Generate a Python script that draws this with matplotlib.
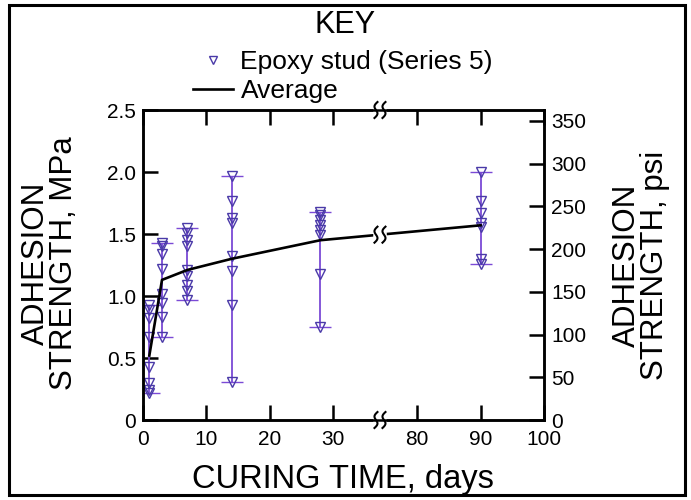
import numpy as np
import matplotlib.pyplot as plt
from matplotlib.lines import Line2D
from matplotlib.patches import Rectangle

plt.rcParams['font.family'] = ['Liberation Sans', 'DejaVu Sans']

# test ages (days) and individual pull-off results (MPa)
days = [1, 3, 7, 14, 28, 90]
day1 = [0.93, 0.89, 0.82, 0.67, 0.43, 0.30, 0.24, 0.22]
day3 = [1.43, 1.40, 1.34, 1.22, 1.02, 0.94, 0.83, 0.67]
day7 = [1.55, 1.51, 1.45, 1.40, 1.21, 1.16, 1.09, 1.04, 0.97]
day14 = [1.97, 1.77, 1.63, 1.59, 1.32, 1.20, 0.93, 0.31]
day28 = [1.68, 1.65, 1.61, 1.57, 1.53, 1.49, 1.18, 0.75]
day90 = [2.00, 1.77, 1.67, 1.59, 1.56, 1.30, 1.26]
strength = [day1, day3, day7, day14, day28, day90]

avg_days = [1, 3, 7, 14, 28, 90]
avg_mpa = [0.52, 1.13, 1.21, 1.30, 1.45, 1.57]

x_ticks = [0, 10, 20, 30, 80, 90, 100]
mpa_ticks = [0, 0.5, 1.0, 1.5, 2.0, 2.5]
mpa_labels = ['0', '0.5', '1.0', '1.5', '2.0', '2.5']
psi_ticks = [0, 50, 100, 150, 200, 250, 300, 350]

MPA_TO_PSI = 145.04
GAP_LO, GAP_HI = 37.4, 74.15   # broken x-axis
EPS = 1e-3

MARK = '#4a3aa8'
BAR = '#7b4ad6'
CAP = '#333333'


def fwd(x):
    x = np.asarray(x, dtype=float)
    return np.where(x <= GAP_LO, x,
                    np.where(x >= GAP_HI, x - (GAP_HI - GAP_LO) * (1 - EPS),
                             GAP_LO + (x - GAP_LO) * EPS))


def inv(y):
    y = np.asarray(y, dtype=float)
    mid = GAP_LO + (GAP_HI - GAP_LO) * EPS
    return np.where(y <= GAP_LO, y,
                    np.where(y >= mid, y + (GAP_HI - GAP_LO) * (1 - EPS),
                             GAP_LO + (y - GAP_LO) / EPS))


W, H = 691, 500
fig = plt.figure(figsize=(W / 100, H / 100), dpi=100)
ax_l, ax_b, ax_w, ax_h = 143, 80, 401, 310
ax = fig.add_axes([ax_l / W, ax_b / H, ax_w / W, ax_h / H])
ax.set_xscale('function', functions=(fwd, inv))
ax.set_xlim(0, 100)
ax.set_ylim(0, 2.5)

for d, vals in zip(days, strength):
    lo, hi = min(vals), max(vals)
    mid = (lo + hi) / 2
    eb = ax.errorbar([d], [mid], yerr=[[mid - lo], [hi - mid]], fmt='none',
                     ecolor=BAR, elinewidth=1.3, capsize=8, capthick=1.0)
    for c in eb[1]:
        c.set_color(CAP)
    ax.plot([d] * len(vals), vals, 'v', ms=7.5, mfc='none', mec=MARK, mew=1.0)

ax.plot(avg_days, avg_mpa, color='black', lw=1.9, zorder=4)

ax.set_xticks(x_ticks)
ax.set_xticklabels([str(t) for t in x_ticks])
ax.set_yticks(mpa_ticks)
ax.set_yticklabels(mpa_labels)
ax.tick_params(direction='in', length=11, width=1.8, top=True, right=False,
               labelsize=15, pad=5)
ax.tick_params(axis='x', pad=7)
ax.minorticks_off()
for s in ax.spines.values():
    s.set_linewidth(1.8)

ax2 = ax.twinx()
ax2.set_ylim(0, 2.5 * MPA_TO_PSI)
ax2.set_yticks(psi_ticks)
ax2.tick_params(direction='in', length=11, width=1.8, labelsize=15, pad=5)
for s in ax2.spines.values():
    s.set_linewidth(1.8)

# break marks
to_ax = ax.transAxes.inverted()
xb = to_ax.transform(ax.transData.transform((GAP_LO, 0)))[0]
p0 = to_ax.transform(ax.transData.transform((avg_days[-2], avg_mpa[-2])))
p1 = to_ax.transform(ax.transData.transform((avg_days[-1], avg_mpa[-1])))
yb_line = p0[1] + (xb - p0[0]) / (p1[0] - p0[0]) * (p1[1] - p0[1])


def draw_break(xf, yf):
    px, py = 1 / ax_w, 1 / ax_h
    sep = 4.0
    ax.plot([xf - sep * px, xf + sep * px], [yf, yf], color='white', lw=4,
            transform=ax.transAxes, clip_on=False, zorder=10)
    t = np.linspace(-1, 1, 40)
    for off in (-sep, sep):
        xs = xf + (off - 2.2 * np.sin(np.pi * t) + 1.5 * t) * px
        ys = yf + 8 * t * py
        ax.plot(xs, ys, color='black', lw=1.5, transform=ax.transAxes,
                clip_on=False, zorder=11)


for yf in (0.0, 1.0, yb_line):
    draw_break(xb, yf)

# labels
fig.text(50 / W, 1 - 263 / H, 'ADHESION\nSTRENGTH, MPa', rotation=90,
         ha='center', va='center', fontsize=22.5, linespacing=0.95)
fig.text(641 / W, 1 - 265 / H, 'ADHESION\nSTRENGTH, psi', rotation=90,
         ha='center', va='center', fontsize=22.5, linespacing=0.95)
fig.text(343 / W, 1 - 488 / H, 'CURING TIME, days', ha='center',
         va='baseline', fontsize=23.5)

# key
fig.text(345 / W, 1 - 25 / H, 'KEY', ha='center', va='center', fontsize=22)
h1 = Line2D([], [], marker='v', ls='none', ms=6, mfc='none', mec=MARK, mew=1.0)
h2 = Line2D([], [], color='black', lw=1.9)
leg = fig.legend([h1, h2], ['Epoxy stud (Series 5)', 'Average'],
                 loc='upper center', bbox_to_anchor=(343 / W, 1 - 50 / H),
                 frameon=False, fontsize=19,
                 handlelength=1.5, handletextpad=0.3, labelspacing=0.2,
                 borderaxespad=0, borderpad=0)

fig.patches.append(Rectangle((9 / W, 5 / H), 676 / W, 490 / H,
                             transform=fig.transFigure, fill=False,
                             lw=2.2, ec='black'))

fig.savefig('out.png', dpi=100)
